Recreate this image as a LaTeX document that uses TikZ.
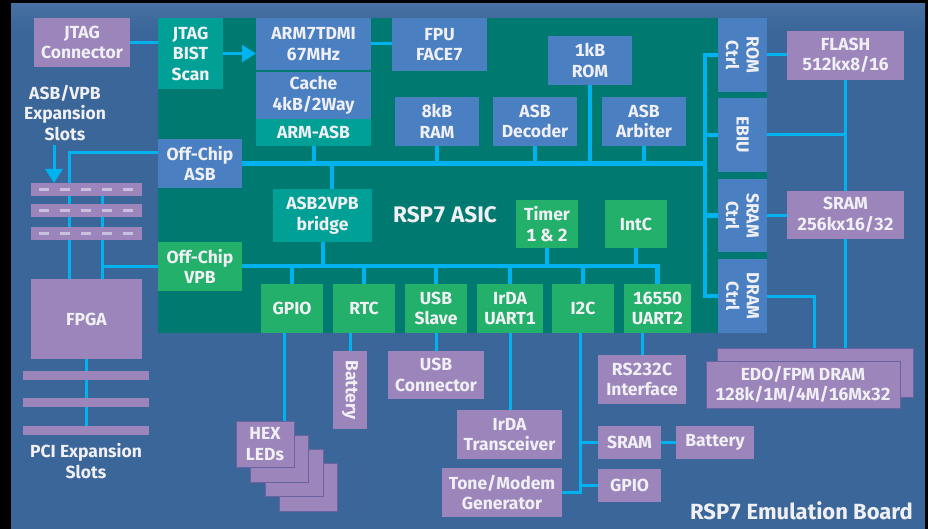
\documentclass[tikz,border=0pt]{standalone}
\usepackage{fontspec}
\setmainfont{Fira Sans}[Numbers=Monospaced]
\usetikzlibrary{arrows.meta,calc}
\definecolor{boardc}{RGB}{58,102,153}
\definecolor{boardtop}{RGB}{72,112,162}
\definecolor{chipc}{RGB}{0,122,112}
\definecolor{bluec}{RGB}{74,128,194}
\definecolor{tealc}{RGB}{0,160,150}
\definecolor{greenc}{RGB}{34,176,106}
\definecolor{purpc}{RGB}{155,133,187}
\definecolor{edgec}{RGB}{105,100,160}
\definecolor{cyanc}{RGB}{0,178,238}
\definecolor{txtc}{RGB}{240,240,244}
\definecolor{dashc}{RGB}{200,192,222}
\newcommand\bfnt{\fontsize{17.5}{20.5}\selectfont\bfseries}
\newcommand\mybox[7]{\node[box,#6,minimum width={(#4-#2)*1pt},minimum height={(#5-#3)*1pt}] (#1) at ({(#2+#4)/2},{(#3+#5)/2}) {#7};}
\tikzset{
  box/.style={inner sep=0pt,outer sep=0pt,align=center,text=txtc,font=\bfnt},
  bb/.style={fill=bluec},
  tb/.style={fill=tealc},
  gb/.style={fill=greenc},
  pb/.style={fill=purpc},
  pe/.style={fill=purpc,draw=edgec,line width=0.8pt},
  txt/.style={inner sep=0pt,align=center,text=txtc,font=\bfnt},
  ln/.style={draw=cyanc,line width=3pt},
  bus/.style={draw=cyanc,line width=4.5pt},
  arr/.style={draw=cyanc,line width=3pt,-{Triangle[length=14pt,width=17pt]}},
}
\begin{document}
\begin{tikzpicture}[x=1pt,y=-1pt]
\fill[black] (0,0) rectangle (928,529);
\useasboundingbox (0,0) rectangle (928,529);
\fill[boardc] (11,4) rectangle (925,529);
\shade[top color=boardtop,bottom color=boardc] (11,4) rectangle (925,30);
\fill[chipc] (158,18) rectangle (767,333);

% chip boxes
\mybox{bist}{158}{18}{223}{89}{tb}{JTAG\\BIST\\Scan}
\mybox{arm}{256}{18}{371}{70}{bb}{ARM7TDMI\\67MHz}
\mybox{cache}{256}{72}{371}{119}{bb}{Cache\\4kB/2Way}
\mybox{armasb}{256}{119}{371}{146}{tb}{ARM-ASB}
\mybox{fpu}{392}{18}{487}{71}{bb}{FPU\\FACE7}
\mybox{rom}{548}{36}{632}{85}{bb}{1kB\\ROM}
\mybox{ram}{395}{97}{479}{146}{bb}{8kB\\RAM}
\mybox{dec}{493}{97}{577}{146}{bb}{ASB\\Decoder}
\mybox{arb}{602}{97}{686}{146}{bb}{ASB\\Arbiter}
\mybox{romc}{718}{18}{767}{92}{bb}{}
\mybox{ebiu}{718}{98}{767}{172}{bb}{}
\mybox{sramc}{718}{179}{767}{252}{bb}{}
\mybox{dramc}{718}{259}{767}{333}{bb}{}
\node[txt,rotate=-90] at (romc) {ROM\\Ctrl};
\node[txt,rotate=-90] at (ebiu) {EBIU};
\node[txt,rotate=-90] at (sramc) {SRAM\\Ctrl};
\node[txt,rotate=-90] at (dramc) {DRAM\\Ctrl};
\mybox{offasb}{158}{139}{242}{188}{bb}{Off-Chip\\ASB}
\mybox{br}{273}{189}{372}{242}{tb}{ASB2VPB\\bridge}
\node[txt,font=\fontsize{22.5}{24}\selectfont\bfseries] (asic) at (445,215) {RSP7 ASIC};
\mybox{timer}{516}{200}{578}{248}{gb}{Timer\\1 \& 2}
\mybox{intc}{605}{200}{667}{248}{gb}{IntC}
\mybox{offvpb}{158}{242}{242}{291}{gb}{Off-Chip\\VPB}
\mybox{gpio}{261}{284}{323}{333}{gb}{GPIO}
\mybox{rtc}{333}{284}{395}{333}{gb}{RTC}
\mybox{usb}{405}{284}{467}{333}{gb}{USB\\Slave}
\mybox{irda}{477}{284}{543}{333}{gb}{IrDA\\UART1}
\mybox{i2c}{552}{284}{614}{333}{gb}{I2C}
\mybox{uart2}{624}{284}{691}{333}{gb}{16550\\UART2}

% off-chip boxes
\mybox{jtagc}{34}{18}{130}{67}{pb}{JTAG\\Connector}
\mybox{flash}{787}{31}{904}{80}{pb}{FLASH\\512kx8/16}
\mybox{sram}{787}{191}{904}{239}{pb}{SRAM\\256kx16/32}
\mybox{dramb}{717}{348}{913}{397}{pe}{}
\mybox{dram}{706}{361}{900}{408}{pe}{EDO/FPM DRAM\\128k/1M/4M/16Mx32}
\mybox{fpga}{31}{279}{142}{359}{pb}{FPGA}
\mybox{bat}{333}{351}{367}{429}{pb}{}
\node[txt,rotate=-90] at (bat) {Battery};
\mybox{usbc}{388}{351}{484}{399}{pb}{USB\\Connector}
\mybox{irdat}{457}{410}{562}{459}{pb}{IrDA\\Transceiver}
\mybox{tone}{442}{468}{562}{517}{pb}{Tone/Modem\\Generator}
\mybox{rs}{598}{355}{686}{404}{pb}{RS232C\\Interface}
\mybox{sram2}{598}{426}{661}{459}{pb}{SRAM}
\mybox{bat2}{676}{426}{754}{459}{pb}{Battery}
\mybox{gpio2}{598}{469}{661}{502}{pb}{GPIO}
\mybox{hex4}{279}{463}{337}{511}{pe}{}
\mybox{hex3}{265}{449}{323}{496}{pe}{}
\mybox{hex2}{250}{435}{308}{482}{pe}{}
\mybox{hex1}{236}{421}{294}{467}{pe}{HEX\\LEDs}

\node[txt] (exptxt) at (65,113) {ASB/VPB\\Expansion\\Slots};
\node[txt] (pcitxt) at (86,461) {PCI Expansion\\Slots};
\node[txt,anchor=east,font=\fontsize{22}{24}\selectfont\bfseries] (board) at (913,511) {RSP7 Emulation Board};

% connectors on chip
\draw[ln] (jtagc.east) -- (bist.west |- jtagc.east);
\draw[arr] (bist.east) -- (arm.west |- bist.east);
\draw[ln] (arm.east) -- (fpu.west |- arm.east);
\coordinate (asbR) at (705,163.5);
\coordinate (vpbR) at (657.5,266);
\draw[bus] (offasb.east) -- (asbR);
\draw[bus] (romc.west) -- (romc.west -| asbR) -- (dramc.west -| asbR) -- (dramc.west);
\draw[bus] (ebiu.west -| asbR) -- (ebiu.west);
\draw[bus] (sramc.west -| asbR) -- (sramc.west);
\foreach \n in {armasb,ram,dec,arb,rom} \draw[ln,line width=4pt] (\n.south) -- (\n.south |- asbR);
\draw[ln,line width=4pt] ($(br.north)+(9.5,0)$) -- ($(br.north |- asbR)+(9.5,0)$);
\draw[bus] (offvpb.east |- vpbR) -- (vpbR) -- (uart2.north);
\draw[ln,line width=4pt] (br.south) -- (br.south |- vpbR);
\foreach \n in {timer,intc} \draw[ln,line width=4pt] (\n.south) -- (\n.south |- vpbR);
\foreach \n in {gpio,rtc,usb,irda,i2c} \draw[ln,line width=4pt] (\n.north) -- (\n.north |- vpbR);

% connectors off chip
\draw[ln] (romc.east) -- (flash.west |- romc.east);
\draw[ln] (sramc.east) -- (sram.west |- sramc.east);
\draw[ln] (flash.south) -- (sram.north);
\draw[ln] (sram.south) -- (sram.south |- dramb.north);
\draw[ln] (ebiu.east) -- (ebiu.east -| flash.south);
\draw[ln] (dramc.east) -| ($(dramb.north)+(-1,0)$);

\coordinate (gx) at ($(gpio.south)+(-8,0)$);
\draw[ln] (gx) -- (gx |- hex1.north);
\draw[ln] (bat.north |- rtc.south) -- (bat.north);
\draw[ln] (usb.south) -- (usbc.north);
\draw[ln] (irda.south) -- (irda.south |- irdat.north);
\coordinate (ix) at ($(i2c.south)+(-3,0)$);
\draw[ln] (ix) -- (ix |- tone.east) -- (tone.east);
\draw[ln] (ix |- sram2.west) -- (sram2.west);
\draw[ln] (ix |- gpio2.west) -- (gpio2.west);
\draw[ln] (sram2.east) -- (bat2.west);
\draw[ln] (rs.north |- uart2.south) -- (rs.north);

% off-chip buses to FPGA and slots
\coordinate (x69) at ($(fpga.north)+(-17.5,0)$);
\coordinate (x102) at ($(fpga.north)+(15.5,0)$);
\draw[ln] ($(offasb.west)+(0,-10.5)$) -| (x69);
\draw[ln] (offvpb.west |- 0,266) -- (x102 |- 0,266);
\draw[ln] (x102 |- 0,190) -- (x102);
\draw[arr] (54,145) -- (54,183);

% expansion slots
\foreach \i/\y in {1/183,2/204,3/227}{
  \mybox{slot\i}{31}{\y}{142}{\y+13}{pb}{}
  \draw[dashc,line width=2.5pt,dash pattern=on 10pt off 11pt] (39,\y+6.5) -- (135,\y+6.5);
}

% PCI slots
\draw[ln] (fpga.south) -- (fpga.south |- 0,428);
\foreach \i/\y in {1/371,2/398,3/426}{
  \mybox{pci\i}{23}{\y}{149}{\y+9}{pb}{}
}
\end{tikzpicture}
\end{document}
